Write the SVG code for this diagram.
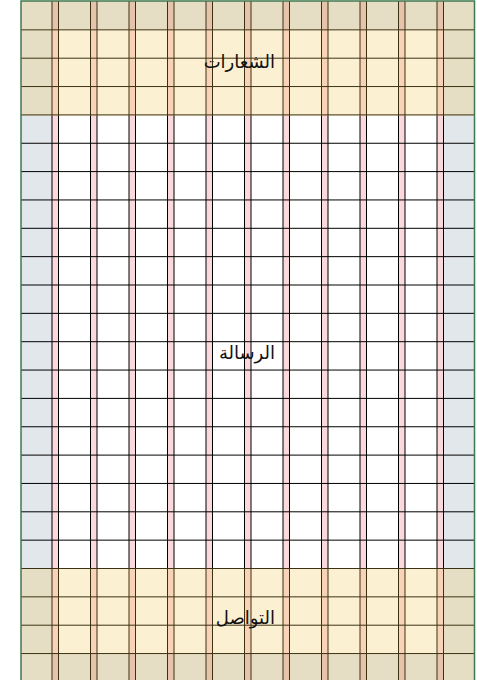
<svg xmlns="http://www.w3.org/2000/svg" width="477" height="680" viewBox="0 0 477 680">
  <style>
    .margin { fill: #e2e7ec; }
    .gutter { fill: rgb(230,60,80); fill-opacity: 0.2; }
    .grid { stroke: #000; stroke-width: 1; fill: none; }
    .band { fill: rgb(245,195,75); fill-opacity: 0.25; }
    .frame { fill: none; stroke: #3f7a4f; stroke-width: 1.5; }
    .label { font-family: "DejaVu Sans", "Noto Sans", sans-serif; font-size: 18px; fill: #111; text-anchor: end; }
  </style>
  <rect x="0" y="0" width="477" height="680" fill="#fff"/>
  <g id="margins">
    <rect class="margin" x="21" y="1" width="31" height="681"/>
    <rect class="margin" x="443.5" y="1" width="31" height="681"/>
    <rect class="margin" x="52" y="1" width="391.5" height="28.85"/>
    <rect class="margin" x="52" y="653.55" width="391.5" height="28.45"/>
  </g>
  <g id="gutters">
    <rect class="gutter" x="52" y="1" width="6.5" height="681"/>
    <rect class="gutter" x="90.5" y="1" width="6.5" height="681"/>
    <rect class="gutter" x="129" y="1" width="6.5" height="681"/>
    <rect class="gutter" x="167.5" y="1" width="6.5" height="681"/>
    <rect class="gutter" x="206" y="1" width="6.5" height="681"/>
    <rect class="gutter" x="244.5" y="1" width="6.5" height="681"/>
    <rect class="gutter" x="283" y="1" width="6.5" height="681"/>
    <rect class="gutter" x="321.5" y="1" width="6.5" height="681"/>
    <rect class="gutter" x="360" y="1" width="6.5" height="681"/>
    <rect class="gutter" x="398.5" y="1" width="6.5" height="681"/>
    <rect class="gutter" x="437" y="1" width="6.5" height="681"/>
  </g>
  <g id="grid-lines" class="grid">
    <path d="M52 1V682M58.5 1V682M90.5 1V682M97 1V682M129 1V682M135.5 1V682M167.5 1V682M174 1V682M206 1V682M212.5 1V682M244.5 1V682M251 1V682M283 1V682M289.5 1V682M321.5 1V682M328 1V682M360 1V682M366.5 1V682M398.5 1V682M405 1V682M437 1V682M443.5 1V682"/>
    <path d="M21 29.85H474.5M21 58.2H474.5M21 86.55H474.5M21 114.9H474.5M21 143.25H474.5M21 171.6H474.5M21 199.95H474.5M21 228.3H474.5M21 256.65H474.5M21 285H474.5M21 313.35H474.5M21 341.7H474.5M21 370.05H474.5M21 398.4H474.5M21 426.75H474.5M21 455.1H474.5M21 483.45H474.5M21 511.8H474.5M21 540.15H474.5M21 568.5H474.5M21 596.85H474.5M21 625.2H474.5M21 653.55H474.5"/>
  </g>
  <g id="header">
    <rect class="band" x="21" y="1" width="453.5" height="114.9"/>
    <text class="label" x="275" y="68">الشعارات</text>
  </g>
  <g id="body">
    <text class="label" x="275" y="359">الرسالة</text>
  </g>
  <g id="footer">
    <rect class="band" x="21" y="567.9" width="453.5" height="114.1"/>
    <text class="label" x="275" y="624">التواصل</text>
  </g>
  <rect class="frame" x="21" y="1" width="453.5" height="681"/>
</svg>
